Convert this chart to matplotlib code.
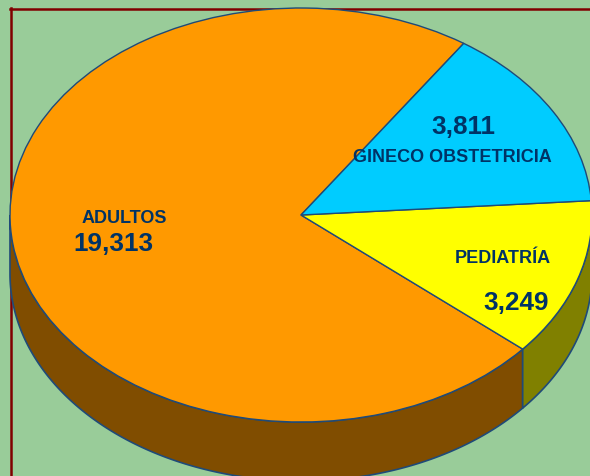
import numpy as np
import matplotlib
matplotlib.use("Agg")
import matplotlib.pyplot as plt
from matplotlib.lines import Line2D

plt.rcParams["font.family"] = ["Liberation Sans", "DejaVu Sans"]

# Datos del grafico
labels = ["ADULTOS", "PEDIATRÍA", "GINECO OBSTETRICIA"]
values = [19313, 3249, 3811]
colors = ["#FF9900", "#FFFF00", "#00CCFF"]
side_colors = ["#804D00", "#808000", "#006680"]
edge = "#1F4A78"
text_color = "#003366"
bg = "#99CC99"

W, H = 590, 477
cx, cy, rx, ry = 301, 216, 291, 207
depth = 59 / ry
start = 56.0


def fx(px):
    return px / W


def fy(py):
    return 1 - py / H


fig = plt.figure(figsize=(W / 100, H / 100), dpi=100, facecolor=bg)
ax = fig.add_axes([0, 0, 1, 1])

# Pie normal, luego se aplasta con aspect auto
ax.pie(values, colors=colors, startangle=start, radius=1, center=(0, 0),
       wedgeprops={"edgecolor": edge, "linewidth": 1.0, "zorder": 3})
ax.set_aspect("auto")
ax.set_xlim(-cx / rx, (W - cx) / rx)
ax.set_ylim((cy - H) / ry, cy / ry)
ax.axis("off")

# Pared lateral del pie, solo la parte frontal (180 a 360 grados)
bounds = start + np.cumsum([0] + values) / sum(values) * 360
for i in range(len(values)):
    a0 = max(bounds[i], 180)
    a1 = min(bounds[i + 1], 360)
    if a1 <= a0:
        continue
    t = np.radians(np.linspace(a0, a1, 200))
    xs = np.r_[np.cos(t), np.cos(t[::-1])]
    ys = np.r_[np.sin(t), np.sin(t[::-1]) - depth]
    ax.fill(xs, ys, facecolor=side_colors[i], edgecolor=edge, linewidth=1.2, zorder=1)

# Marco rojo oscuro arriba e izquierda, por debajo del pie
fig.add_artist(Line2D([fx(10.5), fx(10.5)], [0, fy(9)], color="#800000", lw=1.8, zorder=-1))
fig.add_artist(Line2D([fx(9.5), 1], [fy(9.5), fy(9.5)], color="#800000", lw=1.8, zorder=-1))

# Etiquetas
label_pos = [(124.5, 218.5), (502.5, 258.5), (452, 158)]
value_pos = [(113.5, 244), (516.5, 303), (463, 127)]
for name, val, lp, vp in zip(labels, values, label_pos, value_pos):
    fig.text(fx(lp[0]), fy(lp[1]), name, ha="center", va="center",
             fontsize=13, fontweight="bold", color=text_color)
    fig.text(fx(vp[0]), fy(vp[1]), f"{val:,}", ha="center", va="center",
             fontsize=18.8, fontweight="bold", color=text_color)

fig.savefig("out.png", dpi=100, facecolor=bg)
